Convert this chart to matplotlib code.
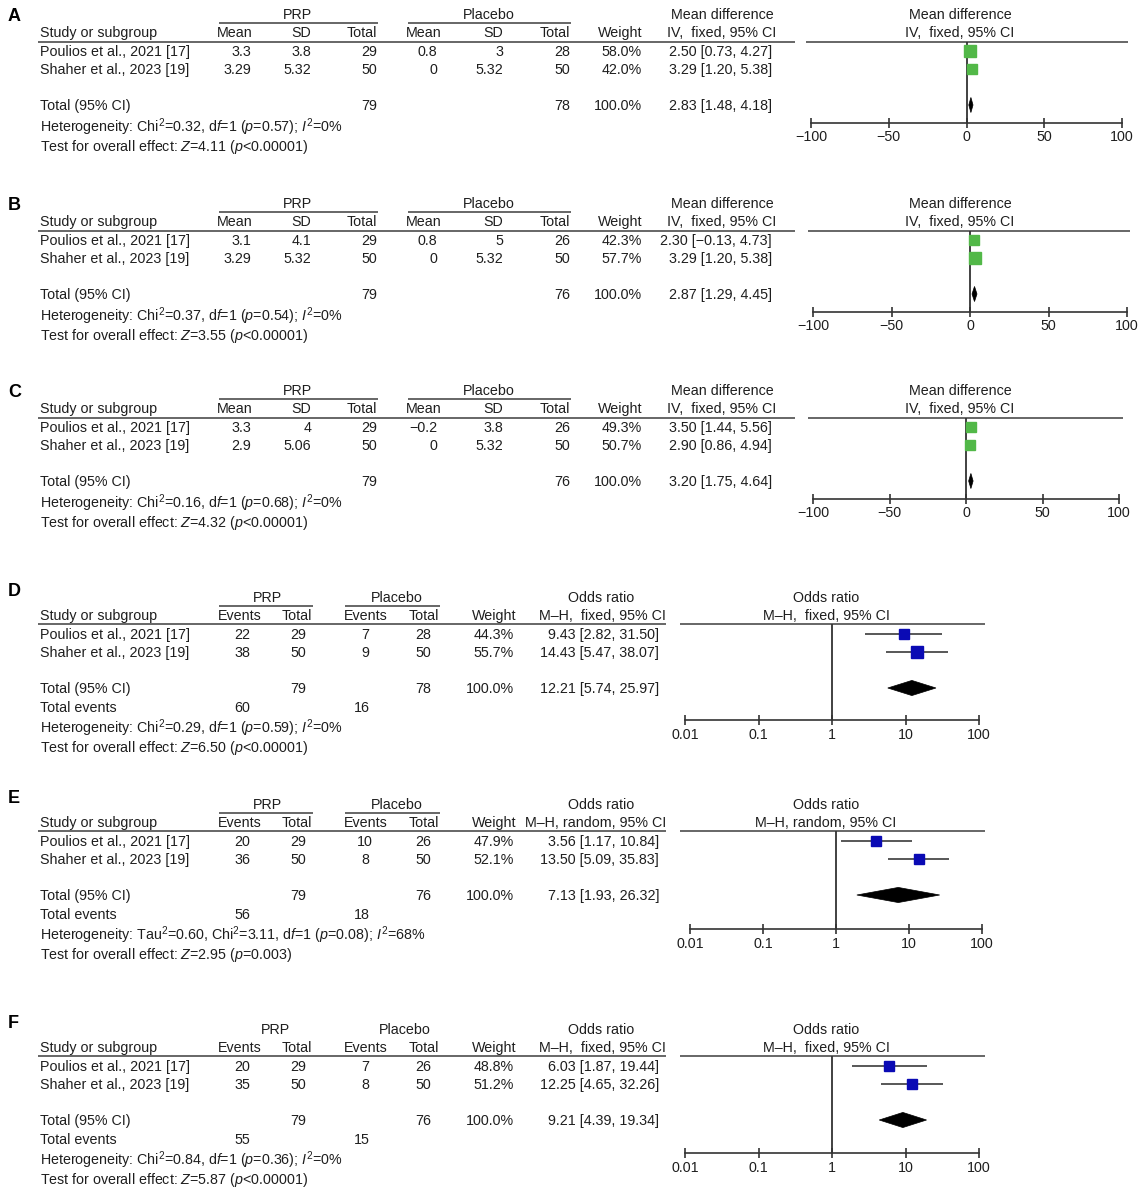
import matplotlib.pyplot as plt
from matplotlib.patches import Polygon
from matplotlib.ticker import NullLocator

plt.rcParams['font.family'] = ['Liberation Sans', 'DejaVu Sans']
plt.rcParams['mathtext.fontset'] = 'custom'
plt.rcParams['mathtext.rm'] = 'Liberation Sans'
plt.rcParams['mathtext.it'] = 'Liberation Sans:italic'
plt.rcParams['mathtext.bf'] = 'Liberation Sans:bold'

studies = ["Poulios et al., 2021 [17]", "Shaher et al., 2023 [19]"]

# A: mean difference, IV fixed
a_prp_mean = [3.3, 3.29]
a_prp_sd = [3.8, 5.32]
a_prp_n = [29, 50]
a_pbo_mean = [0.8, 0]
a_pbo_sd = [3, 5.32]
a_pbo_n = [28, 50]
a_weight = [58.0, 42.0]
a_est = [2.50, 3.29]
a_lo = [0.73, 1.20]
a_hi = [4.27, 5.38]
a_total = [2.83, 1.48, 4.18]
a_het = [0.32, 1, 0.57, 0]          # chi2, df, p, I2
a_test = [4.11, "<0.00001"]

# B
b_prp_mean = [3.1, 3.29]
b_prp_sd = [4.1, 5.32]
b_prp_n = [29, 50]
b_pbo_mean = [0.8, 0]
b_pbo_sd = [5, 5.32]
b_pbo_n = [26, 50]
b_weight = [42.3, 57.7]
b_est = [2.30, 3.29]
b_lo = [-0.13, 1.20]
b_hi = [4.73, 5.38]
b_total = [2.87, 1.29, 4.45]
b_het = [0.37, 1, 0.54, 0]
b_test = [3.55, "<0.00001"]

# C
c_prp_mean = [3.3, 2.9]
c_prp_sd = [4, 5.06]
c_prp_n = [29, 50]
c_pbo_mean = [-0.2, 0]
c_pbo_sd = [3.8, 5.32]
c_pbo_n = [26, 50]
c_weight = [49.3, 50.7]
c_est = [3.50, 2.90]
c_lo = [1.44, 0.86]
c_hi = [5.56, 4.94]
c_total = [3.20, 1.75, 4.64]
c_het = [0.16, 1, 0.68, 0]
c_test = [4.32, "<0.00001"]

# D: odds ratio, M-H fixed
d_prp_events = [22, 38]
d_prp_n = [29, 50]
d_pbo_events = [7, 9]
d_pbo_n = [28, 50]
d_weight = [44.3, 55.7]
d_est = [9.43, 14.43]
d_lo = [2.82, 5.47]
d_hi = [31.50, 38.07]
d_total = [12.21, 5.74, 25.97]
d_het = [0.29, 1, 0.59, 0]
d_test = [6.50, "<0.00001"]

# E: odds ratio, M-H random
e_prp_events = [20, 36]
e_prp_n = [29, 50]
e_pbo_events = [10, 8]
e_pbo_n = [26, 50]
e_weight = [47.9, 52.1]
e_est = [3.56, 13.50]
e_lo = [1.17, 5.09]
e_hi = [10.84, 35.83]
e_total = [7.13, 1.93, 26.32]
e_tau2 = 0.60
e_het = [3.11, 1, 0.08, 68]
e_test = [2.95, "=0.003"]

# F: odds ratio, M-H fixed
f_prp_events = [20, 35]
f_prp_n = [29, 50]
f_pbo_events = [7, 8]
f_pbo_n = [26, 50]
f_weight = [48.8, 51.2]
f_est = [6.03, 12.25]
f_lo = [1.87, 4.65]
f_hi = [19.44, 32.26]
f_total = [9.21, 4.39, 19.34]
f_het = [0.84, 1, 0.36, 0]
f_test = [5.87, "<0.00001"]

W, H = 1143, 1191
FS = 10.3
INK = '#1e1e1e'
RULE = '#5a5a5a'
GREEN = '#52b848'
BLUE = '#0a0ab4'

fig = plt.figure(figsize=(W / 100, H / 100), dpi=100)
page = fig.add_axes([0, 0, 1, 1])
page.set_xlim(0, W)
page.set_ylim(H, 0)
page.axis('off')


def txt(x, y, s, ha='left', **kw):
    # y is the visual middle of the row; place the baseline half a cap height lower
    page.text(x, y + 5, s, ha=ha, va='baseline', fontsize=FS, color=INK, **kw)


def rule(x0, x1, y, lw=1.3):
    page.plot([x0, x1], [y, y], color=RULE, lw=lw, solid_capstyle='butt')


def num(v):
    return f"{v:g}".replace('-', '\u2212')


def ci(est, lo, hi):
    return f"{est:.2f} [{lo:.2f}, {hi:.2f}]".replace('-', '\u2212')


def het_text(het, tau2=None):
    chi2, df, p, i2 = het
    s = "Heterogeneity: "
    if tau2 is not None:
        s += f"Tau$^2$={tau2:.2f}, "
    return s + f"Chi$^2$={chi2:.2f}, d$f$={df} ($p$={p:.2f}); $I^2$={i2}%"


def test_text(test):
    return f"Test for overall effect: $Z$={test[0]:.2f} ($p${test[1]})"


def square_ms(w):
    # square side grows with study weight (pixels -> points)
    return (4 + 0.13 * w) * 0.72


def forest_axes(base, x0, x1, y_top, y_axis, log):
    ax = fig.add_axes([x0 / W, 1 - y_axis / H, (x1 - x0) / W, (y_axis - y_top) / H])
    # row r sits at base + 37 + 18 r on the page
    ax.set_ylim((y_axis - base - 37) / 18, (y_top - base - 37) / 18)
    for side in ('top', 'left', 'right'):
        ax.spines[side].set_visible(False)
    ax.spines['bottom'].set_color('#333333')
    ax.spines['bottom'].set_linewidth(1.2)
    ax.set_yticks([])
    ax.patch.set_alpha(0)
    if log:
        ax.set_xscale('log')
        ax.set_xlim(0.01, 100)
        ax.set_xticks([0.01, 0.1, 1, 10, 100])
        ax.set_xticklabels(['0.01', '0.1', '1', '10', '100'])
        ax.xaxis.set_minor_locator(NullLocator())
        ax.axvline(1, color='#333333', lw=1.3)
    else:
        ax.set_xlim(-100, 100)
        ax.set_xticks([-100, -50, 0, 50, 100])
        ax.axvline(0, color='#333333', lw=1.3)
    ax.tick_params(axis='x', direction='inout', length=7, width=1.2,
                   color='#333333', labelsize=FS, labelcolor=INK, pad=2)
    return ax


def draw_marks(ax, est, lo, hi, weight, total, colour):
    rows = range(len(est))
    ax.hlines(list(rows), lo, hi, color='#4a4a4a', lw=1.3)
    for r in rows:
        ax.plot(est[r], r, marker='s', ms=square_ms(weight[r]), color=colour,
                mec=colour, ls='none', clip_on=False)
    t_est, t_lo, t_hi = total
    h = 0.42
    ax.add_patch(Polygon([(t_lo, 3), (t_est, 3 - h), (t_hi, 3), (t_est, 3 + h)],
                         closed=True, fc='black', ec='black', lw=0.5, clip_on=False))


def letter_label(y, letter):
    page.text(8, y + 6, letter, fontsize=13, fontweight='bold', color='black',
              va='baseline')


def md_panel(letter, base, x_ticks, x_rule, prp_mean, prp_sd, prp_n, pbo_mean,
             pbo_sd, pbo_n, weight, est, lo, hi, total, het, test):
    letter_label(base + 1, letter)
    txt(297, base, "PRP", ha='center')
    rule(219, 378, base + 9)
    txt(489, base, "Placebo", ha='center')
    rule(408, 571, base + 9)
    txt(722, base, "Mean difference", ha='center')
    y = base + 18
    txt(40, y, "Study or subgroup")
    for x, s in [(253, "Mean"), (311, "SD"), (377, "Total"), (442, "Mean"),
                 (503, "SD"), (570, "Total"), (642, "Weight")]:
        txt(x, y, s, ha='right')
    txt(722, y, "IV,  fixed, 95% CI", ha='center')
    rule(38, 795, base + 28)
    for i, name in enumerate(studies):
        y = base + 37 + 18 * i
        txt(40, y, name)
        txt(251, y, num(prp_mean[i]), ha='right')
        txt(311, y, num(prp_sd[i]), ha='right')
        txt(377, y, str(prp_n[i]), ha='right')
        txt(437, y, num(pbo_mean[i]), ha='right')
        txt(503, y, num(pbo_sd[i]), ha='right')
        txt(570, y, str(pbo_n[i]), ha='right')
        txt(642, y, f"{weight[i]:.1f}%", ha='right')
        txt(772, y, ci(est[i], lo[i], hi[i]), ha='right')
    y = base + 91
    txt(40, y, "Total (95% CI)")
    txt(377, y, str(sum(prp_n)), ha='right')
    txt(570, y, str(sum(pbo_n)), ha='right')
    txt(642, y, f"{sum(weight):.1f}%", ha='right')
    txt(772, y, ci(*total), ha='right')
    txt(40, base + 113, het_text(het))
    txt(40, base + 132, test_text(test))

    txt(960, base, "Mean difference", ha='center')
    txt(960, base + 18, "IV,  fixed, 95% CI", ha='center')
    rule(x_rule[0], x_rule[1], base + 28)
    ax = forest_axes(base, x_ticks[0], x_ticks[1], base + 28, base + 108.5, log=False)
    draw_marks(ax, est, lo, hi, weight, total, GREEN)


def or_panel(letter, base, prp_x, pbo_x, underline, x_ticks, y_axis, method,
             prp_ev, prp_n, pbo_ev, pbo_n, weight, est, lo, hi, total, het, test,
             tau2=None):
    letter_label(base - 7, letter)
    txt(prp_x, base, "PRP", ha='center')
    txt(pbo_x, base, "Placebo", ha='center')
    if underline:
        rule(219, 313, base + 9)
        rule(345, 440, base + 9)
    txt(601, base, "Odds ratio", ha='center')
    y = base + 18
    txt(40, y, "Study or subgroup")
    for x, s in [(240, "Events"), (297, "Total"), (366, "Events"), (424, "Total")]:
        txt(x, y, s, ha='center')
    txt(516, y, "Weight", ha='right')
    txt(666, y, method, ha='right')
    rule(38, 666, base + 27)
    for i, name in enumerate(studies):
        y = base + 37 + 18 * i
        txt(40, y, name)
        txt(242, y, str(prp_ev[i]), ha='center')
        txt(298, y, str(prp_n[i]), ha='center')
        txt(365, y, str(pbo_ev[i]), ha='center')
        txt(423, y, str(pbo_n[i]), ha='center')
        txt(514, y, f"{weight[i]:.1f}%", ha='right')
        txt(659, y, ci(est[i], lo[i], hi[i]), ha='right')
    y = base + 91
    txt(40, y, "Total (95% CI)")
    txt(298, y, str(sum(prp_n)), ha='center')
    txt(423, y, str(sum(pbo_n)), ha='center')
    txt(514, y, f"{sum(weight):.1f}%", ha='right')
    txt(659, y, ci(*total), ha='right')
    y = base + 110
    txt(40, y, "Total events")
    txt(242, y, str(sum(prp_ev)), ha='center')
    txt(362, y, str(sum(pbo_ev)), ha='center')
    txt(40, base + 131, het_text(het, tau2))
    txt(40, base + 150, test_text(test))

    txt(826, base, "Odds ratio", ha='center')
    txt(826, base + 18, method, ha='center')
    rule(680, 985, base + 27)
    ax = forest_axes(base, x_ticks[0], x_ticks[1], base + 27, y_axis, log=True)
    draw_marks(ax, est, lo, hi, weight, total, BLUE)


md_panel("A", 14, (811, 1122), (806, 1128), a_prp_mean, a_prp_sd, a_prp_n,
         a_pbo_mean, a_pbo_sd, a_pbo_n, a_weight, a_est, a_lo, a_hi, a_total,
         a_het, a_test)
md_panel("B", 203, (813, 1127), (808, 1130), b_prp_mean, b_prp_sd, b_prp_n,
         b_pbo_mean, b_pbo_sd, b_pbo_n, b_weight, b_est, b_lo, b_hi, b_total,
         b_het, b_test)
md_panel("C", 390, (813, 1119), (808, 1123), c_prp_mean, c_prp_sd, c_prp_n,
         c_pbo_mean, c_pbo_sd, c_pbo_n, c_weight, c_est, c_lo, c_hi, c_total,
         c_het, c_test)

or_panel("D", 597, 268, 397, True, (685, 979), 720, "M\u2013H,  fixed, 95% CI",
         d_prp_events, d_prp_n, d_pbo_events, d_pbo_n, d_weight, d_est, d_lo,
         d_hi, d_total, d_het, d_test)
or_panel("E", 804, 268, 397, True, (690, 982), 929, "M\u2013H, random, 95% CI",
         e_prp_events, e_prp_n, e_pbo_events, e_pbo_n, e_weight, e_est, e_lo,
         e_hi, e_total, e_het, e_test, tau2=e_tau2)
or_panel("F", 1029, 275, 405, False, (685, 979), 1153, "M\u2013H,  fixed, 95% CI",
         f_prp_events, f_prp_n, f_pbo_events, f_pbo_n, f_weight, f_est, f_lo,
         f_hi, f_total, f_het, f_test)

fig.savefig('out.png', dpi=100)
